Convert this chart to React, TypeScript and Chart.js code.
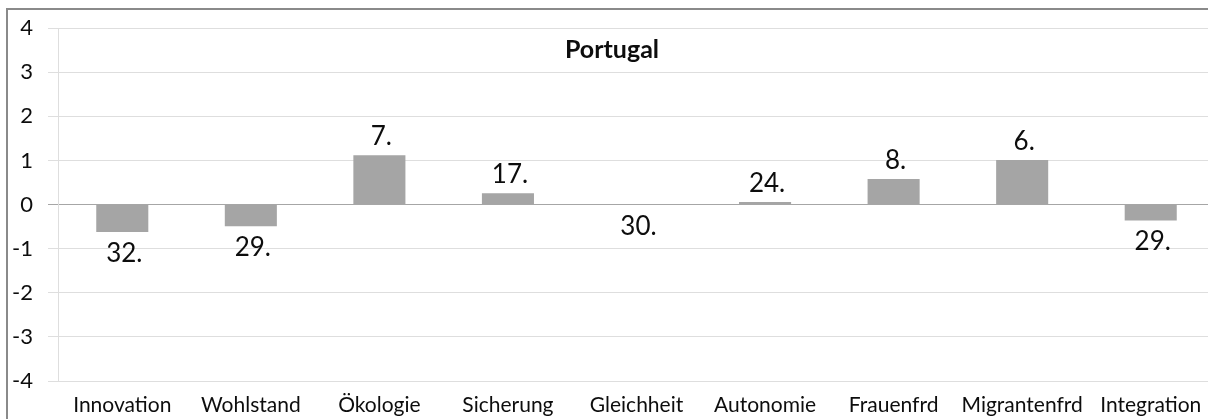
import React, { useEffect, useRef } from "react";
import { Chart, registerables } from "chart.js";

Chart.register(...registerables);

const categories = ["Innovation", "Wohlstand", "Ökologie", "Sicherung", "Gleichheit", "Autonomie", "Frauenfrd", "Migrantenfrd", "Integration"];
const values = [-0.62, -0.49, 1.12, 0.26, -0.01, 0.06, 0.58, 1.01, -0.36];
const ranks = ["32.", "29.", "7.", "17.", "30.", "24.", "8.", "6.", "29."];
const yMin = -4;
const yMax = 4;
const chartTitle = "Portugal";

const FONT = "Lato, 'Open Sans', sans-serif";
const TEXT = "#0d0d0d";

const titlePlugin = {
  id: "innerTitle",
  afterDraw(chart: any) {
    const { ctx, chartArea } = chart;
    ctx.save();
    ctx.font = `bold 25px ${FONT}`;
    ctx.fillStyle = TEXT;
    ctx.textAlign = "center";
    ctx.textBaseline = "alphabetic";
    ctx.fillText(chartTitle, chart.width / 2, chartArea.top + 30);
    ctx.restore();
  },
};

const rankPlugin = {
  id: "rankLabels",
  afterDatasetsDraw(chart: any) {
    const { ctx } = chart;
    const meta = chart.getDatasetMeta(0);
    ctx.save();
    ctx.font = `26px ${FONT}`;
    ctx.fillStyle = TEXT;
    ctx.textAlign = "center";
    ctx.textBaseline = "alphabetic";
    meta.data.forEach((bar: any, i: number) => {
      const v = values[i];
      const y = v >= 0 ? bar.y - 10 : bar.y + 30;
      ctx.fillText(ranks[i], bar.x + 2, y);
    });
    ctx.restore();
  },
};

export default function App() {
  const ref = useRef<HTMLCanvasElement>(null);
  useEffect(() => {
    if (!ref.current) return;
    const chart = new Chart(ref.current, {
      type: "bar",
      data: {
        labels: categories,
        datasets: [
          {
            data: values,
            backgroundColor: "#a5a5a5",
            borderWidth: 0,
            categoryPercentage: 0.405,
            barPercentage: 1,
          },
        ],
      },
      options: {
        responsive: false,
        animation: false,
        layout: { padding: { left: 0, right: 9, top: 25, bottom: 0 } },
        plugins: {
          legend: { display: false },
          title: { display: false },
          tooltip: { enabled: false },
        },
        scales: {
          x: {
            grid: { display: false, drawTicks: false },
            border: { display: false },
            ticks: {
              font: { family: FONT, size: 21 },
              color: TEXT,
              padding: 12,
              maxRotation: 0,
              autoSkip: false,
            },
            afterFit(scale: any) {
              scale.height = 38;
            },
          },
          y: {
            min: yMin,
            max: yMax,
            ticks: {
              stepSize: 1,
              font: { family: FONT, size: 22 },
              color: TEXT,
              padding: 15,
            },
            grid: {
              color: (c: any) => (c.tick && c.tick.value === 0 ? "#a6a6a6" : "#dedede"),
              lineWidth: 1,
              tickLength: 10,
              drawTicks: true,
            },
            border: { display: true, color: "#dedede", width: 1 },
            afterFit(scale: any) {
              scale.width = 58;
            },
          },
        },
      },
      plugins: [titlePlugin, rankPlugin],
    });
    return () => chart.destroy();
  }, []);

  return (
    <div style={{ position: "absolute", left: 0, top: 0, width: 1208, height: 419, overflow: "hidden", background: "#fff" }}>
      <div
        style={{
          position: "absolute",
          left: 6,
          top: 8,
          width: 1240,
          height: 440,
          border: "2px solid #8a8a8a",
          boxSizing: "border-box",
        }}
      />
      <canvas ref={ref} width={1224} height={419} style={{ position: "absolute", left: 0, top: 0 }} />
    </div>
  );
}
